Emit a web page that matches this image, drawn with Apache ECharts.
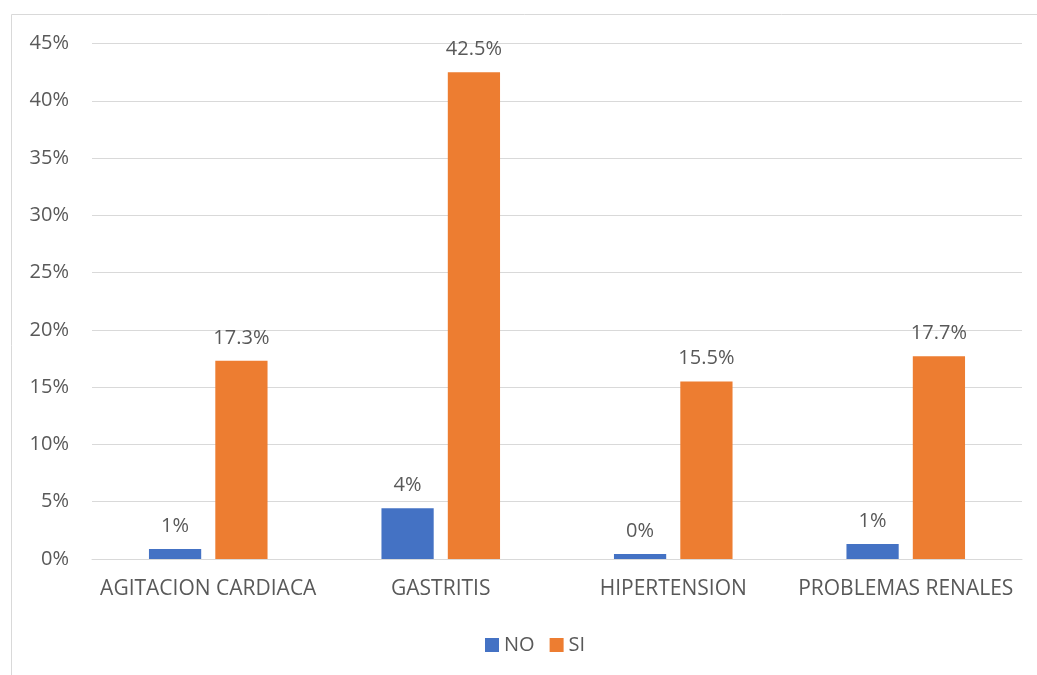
<!DOCTYPE html>
<html>
<head>
<meta charset="utf-8">
<script src="https://cdn.jsdelivr.net/npm/echarts@6/dist/echarts.min.js"></script>
<style>html,body{margin:0;padding:0;background:#fff}#c{width:1037px;height:675px}</style>
</head>
<body>
<div id="c"></div>
<script>
var categories = ['AGITACION CARDIACA', 'GASTRITIS', 'HIPERTENSION', 'PROBLEMAS RENALES'];
var seriesNames = ['NO', 'SI'];
var noValues = [0.87, 4.42, 0.44, 1.31];
var siValues = [17.3, 42.5, 15.5, 17.7];
var yMax = 45, yInterval = 5;

var font = 'Open Sans';
var fs = 20;
var textColor = '#595959';
var chart = echarts.init(document.getElementById('c'));
chart.setOption({
  animation: false,
  graphic: [{type:'rect', shape:{x:11.5, y:14.5, width:1100, height:700}, style:{fill:'none', stroke:'#d9d9d9', lineWidth:1}, silent:true}],
  grid: {left: 92, right: 15, top: 43.5, bottom: 116},
  legend: {
    data: seriesNames, bottom: 15, left: 480, itemWidth: 14, itemHeight: 14, itemGap: 15,
    icon: 'rect',
    textStyle: {fontFamily: font, fontSize: fs, color: textColor}
  },
  xAxis: {
    type: 'category', data: categories,
    axisLine: {lineStyle: {color: '#d9d9d9', width: 1}},
    axisTick: {show: false},
    axisLabel: {fontFamily: font, fontSize: 21, color: textColor, margin: 20, interval: 0}
  },
  yAxis: {
    type: 'value', min: 0, max: yMax, interval: yInterval,
    axisLine: {show: false}, axisTick: {show: false},
    axisLabel: {fontFamily: font, fontSize: fs, color: textColor, margin: 23, formatter: '{value}%'},
    splitLine: {lineStyle: {color: '#d9d9d9', width: 1}}
  },
  series: [
    {name: 'NO', type: 'bar', data: noValues, itemStyle: {color: '#4472c4'},
     barGap: '27%', barCategoryGap: '49%',
     label: {show: true, position: 'top', distance: 13, fontFamily: font, fontSize: fs, color: textColor,
       formatter: function(p){ return p.value.toFixed(0) + '%'; }}},
    {name: 'SI', type: 'bar', data: siValues, itemStyle: {color: '#ed7d31'},
     barGap: '27%', barCategoryGap: '49%',
     label: {show: true, position: 'top', distance: 13, fontFamily: font, fontSize: fs, color: textColor,
       formatter: function(p){ return p.value.toFixed(1) + '%'; }}}
  ]
});
</script>
</body>
</html>
